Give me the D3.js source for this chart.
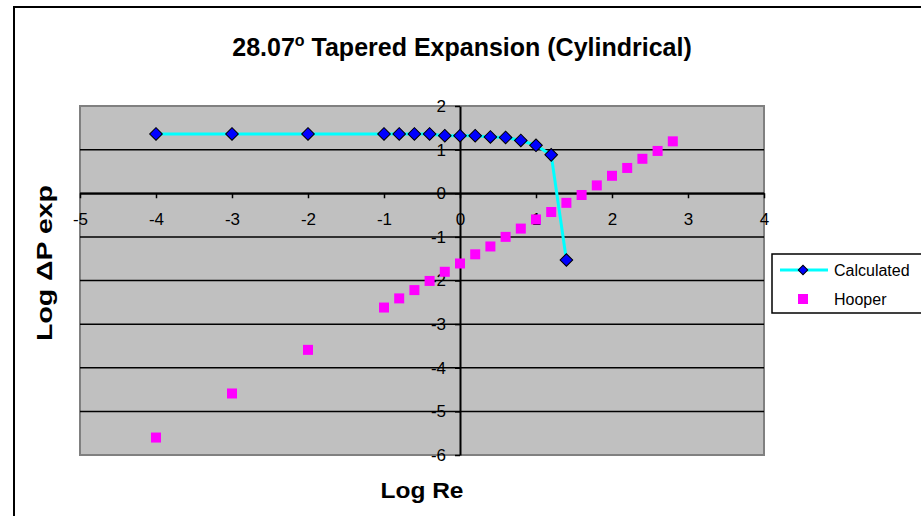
<!DOCTYPE html>
<html>
<head>
<meta charset="utf-8">
<script src="https://cdn.jsdelivr.net/npm/d3@7"></script>
<style>
  body { margin: 0; background: #fff; }
  svg { display: block; font-family: "Liberation Sans", Arial, sans-serif; }
</style>
</head>
<body>
<svg id="chart"></svg>
<script>
// log Re values and log dP for the two series
const calcX = [-4, -3, -2, -1, -0.8, -0.6, -0.4, -0.2, 0, 0.2, 0.4, 0.6, 0.8, 1.0, 1.2, 1.4];
const calcY = [1.36, 1.36, 1.36, 1.36, 1.36, 1.36, 1.36, 1.32, 1.32, 1.32, 1.29, 1.28, 1.21, 1.10, 0.88, -1.53];

const hooperX = [-4, -3, -2, -1, -0.8, -0.6, -0.4, -0.2, 0, 0.2, 0.4, 0.6, 0.8, 1.0, 1.2, 1.4, 1.6, 1.8, 2.0, 2.2, 2.4, 2.6, 2.8];
const hooperY = [-5.60, -4.59, -3.59, -2.62, -2.41, -2.22, -2.01, -1.80, -1.61, -1.40, -1.22, -1.00, -0.81, -0.60, -0.43, -0.22, -0.04, 0.18, 0.40, 0.58, 0.79, 0.97, 1.19];

const xTicks = [-5, -4, -3, -2, -1, 0, 1, 2, 3, 4];
const yTicks = [-6, -5, -4, -3, -2, -1, 0, 1, 2];

const width = 921;
const height = 516;
const plot = { left: 80, right: 764, top: 106, bottom: 455 };

const svg = d3.select('#chart')
    .attr('width', width)
    .attr('height', height);

// chart frame (runs off the right and bottom edges)
svg.append('rect')
    .attr('x', 14).attr('y', 7)
    .attr('width', 940).attr('height', 540)
    .attr('fill', '#fff')
    .attr('stroke', '#000')
    .attr('stroke-width', 2);

const x = d3.scaleLinear().domain([-5, 4]).range([plot.left, plot.right]);
const y = d3.scaleLinear().domain([-6, 2]).range([plot.bottom, plot.top]);

// plot area
svg.append('rect')
    .attr('x', plot.left).attr('y', plot.top)
    .attr('width', plot.right - plot.left)
    .attr('height', plot.bottom - plot.top)
    .attr('fill', '#c0c0c0')
    .attr('stroke', '#808080')
    .attr('stroke-width', 2);

// horizontal gridlines
svg.append('g')
    .selectAll('line')
    .data(yTicks.filter(d => d > -6 && d < 2))
    .join('line')
    .attr('x1', plot.left).attr('x2', plot.right)
    .attr('y1', d => y(d)).attr('y2', d => y(d))
    .attr('stroke', '#000')
    .attr('stroke-width', 1.5);

const fmt = d => String(d); // plain hyphen minus like Excel

const xAxis = d3.axisBottom(x)
    .tickValues(xTicks)
    .tickFormat(fmt)
    .tickSize(5)
    .tickPadding(15)
    .tickSizeOuter(0);

const yAxis = d3.axisLeft(y)
    .tickValues(yTicks)
    .tickFormat(fmt)
    .tickSize(5)
    .tickPadding(9)
    .tickSizeOuter(0);

const gX = svg.append('g')
    .attr('transform', `translate(0,${y(0)})`)
    .call(xAxis);

const gY = svg.append('g')
    .attr('transform', `translate(${x(0)},0)`)
    .call(yAxis);

[gX, gY].forEach(g => {
    g.select('.domain').attr('stroke', '#000').attr('stroke-width', 2);
    g.selectAll('.tick line').attr('stroke', '#000').attr('stroke-width', 1.5);
    g.selectAll('.tick text')
        .attr('fill', '#000')
        .style('font-family', '"Liberation Sans", Arial, sans-serif')
        .style('font-size', '17px');
});

// calculated series
const calc = calcX.map((d, i) => [d, calcY[i]]);
const hooper = hooperX.map((d, i) => [d, hooperY[i]]);

svg.append('path')
    .datum(calc)
    .attr('fill', 'none')
    .attr('stroke', '#00ffff')
    .attr('stroke-width', 3)
    .attr('d', d3.line().x(d => x(d[0])).y(d => y(d[1])));

const diamond = d3.symbol().type(d3.symbolSquare).size(80);

svg.append('g')
    .selectAll('path')
    .data(calc)
    .join('path')
    .attr('d', diamond)
    .attr('transform', d => `translate(${x(d[0])},${y(d[1])}) rotate(45)`)
    .attr('fill', '#0000ff')
    .attr('stroke', '#000')
    .attr('stroke-width', 1);

svg.append('g')
    .selectAll('rect')
    .data(hooper)
    .join('rect')
    .attr('x', d => x(d[0]) - 5)
    .attr('y', d => y(d[1]) - 5)
    .attr('width', 10).attr('height', 10)
    .attr('fill', '#ff00ff');

// title
const title = svg.append('text')
    .attr('x', 462).attr('y', 56)
    .attr('text-anchor', 'middle')
    .style('font-size', '25px')
    .style('font-weight', 'bold');
title.append('tspan').text('28.07');
title.append('tspan').attr('dy', -10).style('font-size', '16px').text('o');
title.append('tspan').attr('dy', 10).text(' Tapered Expansion (Cylindrical)');

svg.append('text')
    .attr('x', 422).attr('y', 498)
    .attr('text-anchor', 'middle')
    .attr('textLength', 83)
    .attr('lengthAdjust', 'spacingAndGlyphs')
    .style('font-size', '22px')
    .style('font-weight', 'bold')
    .text('Log Re');

svg.append('text')
    .attr('transform', 'translate(52,263) rotate(-90)')
    .attr('text-anchor', 'middle')
    .attr('textLength', 156)
    .attr('lengthAdjust', 'spacingAndGlyphs')
    .style('font-size', '22px')
    .style('font-weight', 'bold')
    .text('Log \u0394P exp');

// legend
const legend = svg.append('g').attr('transform', 'translate(772,254)');
legend.append('rect')
    .attr('width', 170).attr('height', 59)
    .attr('fill', '#fff')
    .attr('stroke', '#000')
    .attr('stroke-width', 1.5);
legend.append('line')
    .attr('x1', 8).attr('x2', 56)
    .attr('y1', 16).attr('y2', 16)
    .attr('stroke', '#00ffff')
    .attr('stroke-width', 3);
legend.append('path')
    .attr('d', d3.symbol().type(d3.symbolSquare).size(45))
    .attr('transform', 'translate(31,16) rotate(45)')
    .attr('fill', '#0000ff')
    .attr('stroke', '#000');
legend.append('rect')
    .attr('x', 26).attr('y', 40)
    .attr('width', 10).attr('height', 10)
    .attr('fill', '#ff00ff');
legend.selectAll('text.lab')
    .data(['Calculated', 'Hooper'])
    .join('text')
    .attr('class', 'lab')
    .attr('x', 62)
    .attr('y', (d, i) => 16 + i * 29)
    .attr('dy', '0.35em')
    .style('font-size', '16px')
    .text(d => d);
</script>
</body>
</html>
